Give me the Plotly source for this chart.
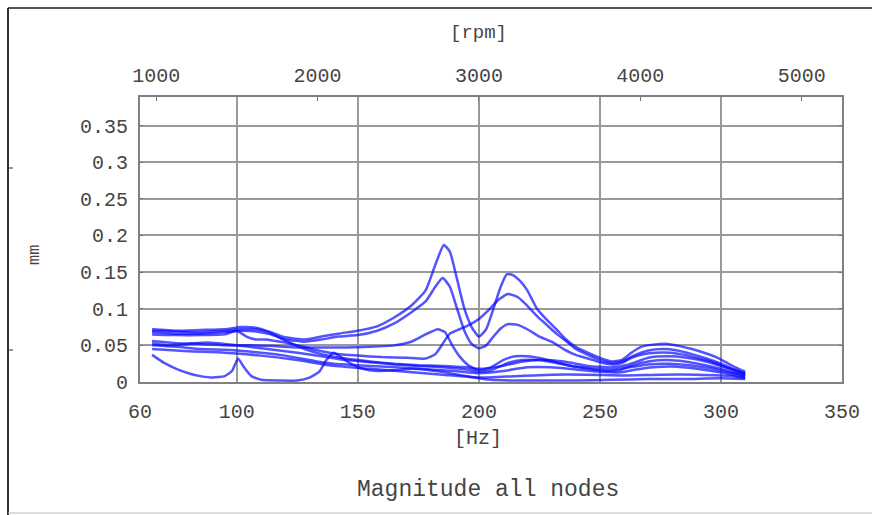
import plotly.graph_objects as go

# ---- data ----
c1_hz = [65, 75, 85, 95, 102, 108, 114, 120, 128, 135, 142, 150, 158, 165, 172, 178, 182, 185.5, 188, 191, 194, 197, 200, 203, 206, 209, 211.5, 214, 217, 220, 224, 228, 232, 236, 240, 245, 250, 255, 259, 263, 267, 272, 278, 283, 288, 293, 298, 302, 306, 310]
c1_mm = [.072, .07, .071, .072, .075, .074, .068, .061, .058, .062, .066, .070, .076, .088, .104, .125, .160, .187, .178, .14, .1, .075, .062, .072, .1, .13, .147, .146, .138, .125, .1, .085, .072, .058, .048, .04, .033, .028, .03, .04, .048, .051, .052, .049, .045, .04, .034, .027, .02, .014]

c2_hz = [65, 75, 85, 95, 102, 108, 114, 120, 128, 135, 142, 150, 158, 165, 172, 178, 182, 185, 188, 191, 194, 197, 200, 203, 206, 209, 212, 216, 220, 225, 230, 235, 240, 245, 250, 255, 259, 263, 268, 273, 279, 285, 290, 296, 302, 306, 310]
c2_mm = [.068, .066, .066, .068, .07, .069, .065, .058, .055, .058, .062, .064, .07, .08, .095, .11, .13, .142, .13, .1, .07, .052, .046, .05, .062, .073, .079, .078, .072, .062, .055, .045, .037, .032, .027, .024, .026, .033, .038, .04, .04, .037, .033, .028, .02, .015, .01]

c3_hz = [65, 75, 85, 95, 105, 115, 125, 135, 145, 155, 165, 172, 178, 183, 186, 189, 192, 196, 200, 205, 210, 215, 220, 226, 232, 238, 245, 252, 258, 263, 270, 278, 285, 292, 300, 305, 310]
c3_mm = [.056, .053, .052, .05, .05, .049, .047, .047, .047, .048, .05, .055, .065, .072, .068, .05, .035, .022, .016, .02, .03, .035, .035, .032, .027, .022, .018, .015, .016, .022, .028, .03, .028, .024, .018, .013, .008]

c4_hz = [65, 75, 85, 95, 100, 104, 108, 112, 116, 120, 125, 130, 135, 140, 150, 160, 170, 178, 182, 185, 188, 192, 196, 200, 204, 208, 212, 216, 220, 224, 228, 232, 236, 240, 245, 250, 255, 259, 264, 270, 276, 282, 288, 294, 300, 305, 310]
c4_mm = [.065, .064, .064, .065, .07, .062, .058, .058, .056, .054, .05, .046, .042, .039, .036, .034, .033, .032, .038, .052, .066, .072, .078, .086, .098, .112, .12, .116, .104, .09, .078, .066, .056, .045, .037, .03, .026, .028, .036, .043, .045, .043, .038, .032, .025, .018, .011]

c5_hz = [65, 75, 85, 95, 100, 110, 120, 130, 135, 140, 150, 160, 170, 180, 190, 200, 210, 220, 230, 240, 250, 258, 265, 272, 280, 290, 300, 310]
c5_mm = [.05, .048, .045, .044, .043, .04, .036, .03, .027, .025, .023, .021, .019, .017, .015, .012, .015, .02, .02, .017, .014, .013, .017, .02, .021, .018, .013, .006]

c6_hz = [65, 72, 80, 88, 95, 105, 115, 125, 135, 145, 155, 165, 175, 185, 195, 200, 205, 212, 218, 225, 232, 240, 248, 255, 262, 270, 278, 287, 295, 302, 310]
c6_mm = [.053, .05, .052, .054, .052, .048, .044, .04, .035, .03, .027, .024, .022, .02, .017, .014, .016, .026, .03, .03, .026, .021, .018, .017, .02, .024, .025, .023, .019, .014, .009]

c7_hz = [65, 70, 75, 80, 85, 90, 95, 98, 100.5, 103, 106, 110, 118, 125, 130, 134, 137, 140, 143, 147, 152, 158, 165, 172, 180, 188, 195, 200, 205, 215, 225, 240, 255, 270, 285, 300, 310]
c7_mm = [.037, .026, .018, .012, .008, .006, .008, .015, .032, .02, .008, .003, .002, .002, .006, .014, .03, .04, .034, .025, .018, .015, .016, .018, .016, .012, .008, .005, .003, .002, .002, .002, .003, .004, .004, .005, .004]

c8_hz = [65, 75, 85, 95, 102, 108, 113, 118, 123, 128, 135, 145, 155, 165, 175, 185, 195, 200, 210, 218, 225, 235, 245, 255, 262, 270, 278, 286, 295, 302, 310]
c8_mm = [.07, .069, .068, .07, .072, .072, .068, .06, .052, .045, .038, .032, .028, .025, .023, .022, .02, .018, .022, .028, .03, .028, .022, .02, .024, .033, .035, .033, .027, .02, .012]

c9_hz = [65, 80, 95, 110, 125, 140, 155, 170, 185, 200, 215, 230, 245, 260, 275, 290, 305, 310]
c9_mm = [.045, .042, .04, .036, .03, .022, .018, .014, .01, .006, .008, .01, .01, .009, .01, .01, .008, .005]

series = [(c1_hz, c1_mm), (c2_hz, c2_mm), (c3_hz, c3_mm), (c4_hz, c4_mm), (c5_hz, c5_mm),
          (c6_hz, c6_mm), (c7_hz, c7_mm), (c8_hz, c8_mm), (c9_hz, c9_mm)]

hz_ticks = [60, 100, 150, 200, 250, 300, 350]
mm_ticks = [0, 0.05, 0.1, 0.15, 0.2, 0.25, 0.3, 0.35]
mm_labels = ["0", "0.05", "0.1", "0.15", "0.2", "0.25", "0.3", "0.35"]
rpm_ticks = [1000, 2000, 3000, 4000, 5000]
RPM_PER_HZ = 15

# ---- layout geometry ----
W, H = 872, 515
L, R, T, B = 140, 30, 97, 133
PW, PH = W - L - R, H - T - B


def px(x):
    return (x - L) / PW


def py(y):
    return (H - B - y) / PH


FONT = "Liberation Mono"
TXT = "#454545"
GRID = "#9a9a9a"

fig = go.Figure()
for hz, mm in series:
    fig.add_trace(go.Scatter(x=hz, y=mm, mode="lines",
                             line=dict(color="rgba(10,10,255,0.7)", width=2.5, shape="spline", smoothing=0.5),
                             showlegend=False, hoverinfo="skip"))
# invisible trace for the rpm axis
fig.add_trace(go.Scatter(x=[hz_ticks[0] * RPM_PER_HZ, hz_ticks[-1] * RPM_PER_HZ], y=[None, None], xaxis="x2",
                         mode="lines", showlegend=False, hoverinfo="skip"))

fig.update_layout(
    width=W, height=H, margin=dict(l=L, r=R, t=T, b=B),
    paper_bgcolor="white", plot_bgcolor="white",
    font=dict(family=FONT, color=TXT, size=20),
    xaxis=dict(range=[60, 350], tickvals=hz_ticks, ticktext=[str(v) for v in hz_ticks],
               showgrid=True, gridcolor=GRID, gridwidth=1.5, zeroline=False,
               showline=True, linecolor="#808080", linewidth=2, mirror=True,
               ticks="", ticklabelstandoff=10, tickfont=dict(size=20, color=TXT, family=FONT)),
    yaxis=dict(range=[0, 0.389], tickvals=mm_ticks, ticktext=mm_labels,
               showgrid=True, gridcolor=GRID, gridwidth=1.5, zeroline=False,
               showline=True, linecolor="#808080", linewidth=2, mirror="ticks",
               ticks="inside", ticklen=3, tickcolor="#707070", ticklabelstandoff=6,
               tickfont=dict(size=20, color=TXT, family=FONT)),
    xaxis2=dict(overlaying="x", side="top", range=[60 * RPM_PER_HZ, 350 * RPM_PER_HZ],
                tickvals=rpm_ticks, ticktext=[str(v) for v in rpm_ticks],
                showgrid=False, zeroline=False, showline=False,
                ticks="inside", ticklen=4, tickcolor="#707070", ticklabelstandoff=10,
                tickfont=dict(size=20, color=TXT, family=FONT)),
)

anns = [
    ("[rpm]", 478, 33, 19, 0),
    ("[Hz]", 478, 438, 20, 0),
    ("Magnitude all nodes", 488, 490, 23, 0),
    ("mm", 35, 255, 17, -90),
]
for text, x, y, size, ang in anns:
    fig.add_annotation(text=text, x=px(x), y=py(y), xref="paper", yref="paper", showarrow=False,
                       xanchor="center", yanchor="middle", textangle=ang,
                       font=dict(size=size, color=TXT, family=FONT))

# outer frame of the picture
fig.add_shape(type="line", xref="paper", yref="paper", x0=px(8), x1=px(872), y0=py(8), y1=py(8),
              line=dict(color="#555555", width=2))
fig.add_shape(type="line", xref="paper", yref="paper", x0=px(8), x1=px(8), y0=py(8), y1=py(515),
              line=dict(color="#333333", width=2))
fig.add_shape(type="line", xref="paper", yref="paper", x0=px(8), x1=px(872), y0=py(513), y1=py(513),
              line=dict(color="#bbbbbb", width=1))
for yy in (168, 350):
    fig.add_shape(type="line", xref="paper", yref="paper", x0=px(8), x1=px(13), y0=py(yy), y1=py(yy),
                  line=dict(color="#333333", width=1))

fig.write_html("out.html")
